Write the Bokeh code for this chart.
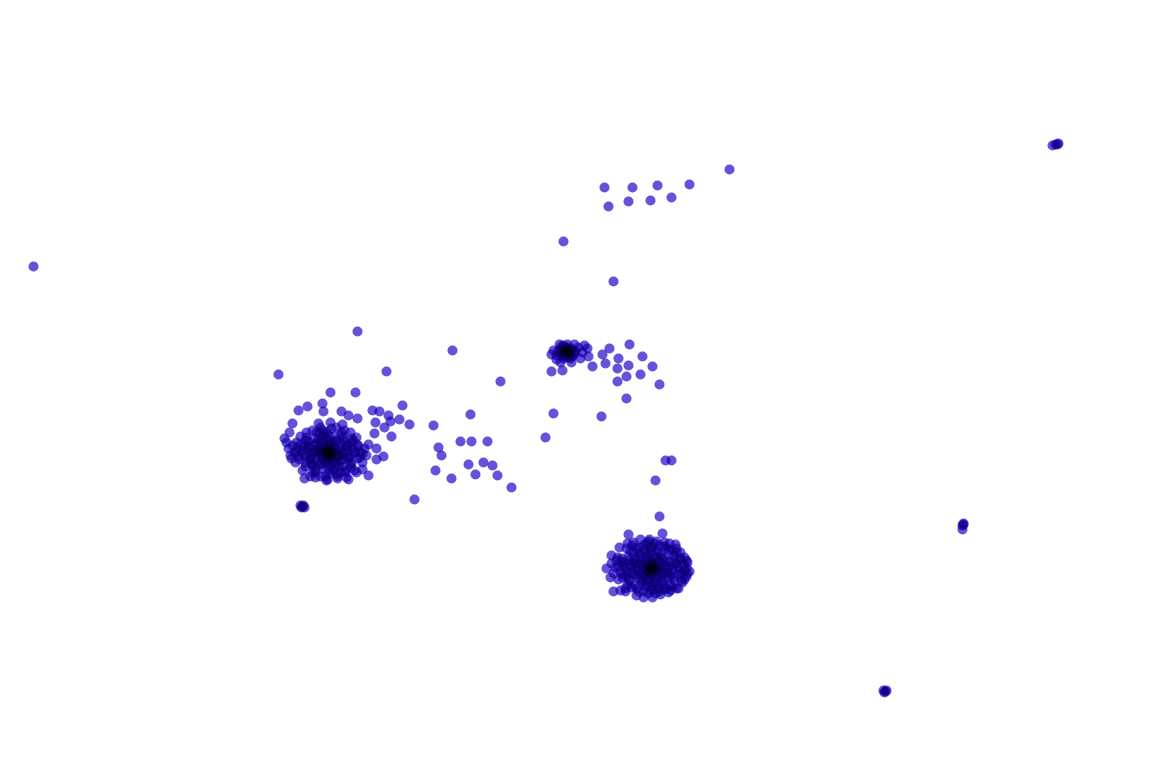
from bokeh.plotting import figure
from bokeh.models import ColumnDataSource, Range1d
from bokeh.embed import file_html
from bokeh.resources import INLINE

# Embedding coordinates (x grows right, y grows downward as in the original view)
sparse_x = [33, 357, 452, 386, 278, 500, 563, 613, 729,
            604, 632, 657, 689, 608, 628, 650, 671,
            553, 601, 545, 655, 665, 671]
sparse_y = [266, 331, 350, 371, 374, 381, 241, 281, 169,
            187, 187, 185, 184, 206, 201, 200, 197,
            413, 416, 437, 480, 460, 460]

middle_x = [470, 433, 409, 438, 441, 460, 471, 487, 483, 492, 468, 435, 451, 475, 497, 511, 414]
middle_y = [414, 425, 424, 447, 455, 441, 441, 441, 462, 465, 464, 470, 478, 474, 475, 487, 499]

left_x = [328, 327, 329, 326, 330, 328, 328, 325, 331, 327, 330, 324, 332, 326,
          320, 336, 328, 328, 322, 334, 322, 334, 318, 338, 331, 325, 339, 317, 333, 323,
          312, 344, 316, 340, 316, 340, 322, 334, 322, 334, 309, 347, 310, 346, 328, 328, 314, 342, 343, 313,
          302, 354, 305, 351, 305, 351, 312, 344, 312, 345, 298, 358, 320, 336, 320, 337, 300, 357, 296, 360,
          292, 364, 295, 362, 302, 354, 306, 350, 330, 318, 342, 290, 366, 300, 356, 310, 346, 326, 286, 368,
          329, 327, 330, 326, 331, 325, 333, 323, 329, 327, 335, 321, 332, 324, 337, 319, 330, 326, 340, 316,
          336, 320, 343, 313, 338, 318, 346, 310, 332, 324, 349, 307, 341, 315, 352, 305, 329, 327, 350, 308,
          345, 311, 353, 303, 336, 319,
          314, 342, 320, 336, 321, 335, 308, 348, 309, 347, 326, 330, 302, 354, 316, 340, 315, 341, 297, 359,
          305, 351, 306, 350, 325, 331, 299, 357, 318, 338, 312, 344, 294, 362, 322,
          330, 355, 298, 307, 322, 323, 341, 348, 357, 372, 379, 388, 402, 399, 390, 384, 375, 374, 391,
          292, 289, 284, 288, 291, 296, 376, 376, 383, 368, 304, 315, 327, 337, 348, 356, 362]
left_y = [452, 453, 451, 451, 453, 450, 455, 454, 452, 449, 456, 452, 450, 457,
          452, 452, 444, 460, 446, 446, 458, 458, 449, 455, 443, 461, 448, 456, 462, 442,
          452, 452, 443, 443, 461, 461, 436, 436, 468, 468, 447, 457, 458, 446, 435, 469, 438, 466, 438, 466,
          450, 452, 440, 442, 462, 463, 430, 430, 472, 472, 456, 446, 427, 427, 476, 476, 444, 458, 451, 452,
          445, 448, 462, 462, 470, 470, 432, 432, 422, 423, 424, 455, 455, 436, 437, 476, 477, 480, 442, 444,
          453, 451, 450, 454, 455, 449, 453, 455, 447, 458, 449, 450, 459, 445, 456, 454, 441, 463, 451, 451,
          440, 464, 459, 445, 466, 439, 449, 455, 470, 434, 456, 450, 435, 469, 448, 456, 473, 431, 464, 441,
          470, 464, 440, 446, 474, 432,
          452, 453, 441, 463, 463, 441, 446, 458, 459, 445, 438, 466, 453, 451, 432, 472, 472, 432, 447, 457,
          466, 438, 437, 467, 476, 428, 459, 444, 447, 457, 463, 441, 452, 453, 430,
          392, 392, 410, 406, 403, 411, 411, 415, 418, 410, 411, 415, 405, 419, 421, 427, 422, 433, 436,
          423, 432, 438, 448, 458, 442, 448, 459, 456, 475, 478, 477, 479, 478, 479, 472, 469]

mid_x = [566, 565, 567, 564, 568, 566, 563, 569, 566, 562, 570, 565, 560, 572, 567, 561, 573, 558, 575,
         563, 570, 556, 578, 559, 574, 582, 553, 580, 587, 588, 556, 584, 571, 560, 551,
         566, 567, 565, 568, 564, 570, 562, 571, 560, 574, 567, 563,
         551, 562, 592, 602, 609, 618, 629, 605, 617, 628, 642, 652, 626, 617, 640, 659, 626]
mid_y = [350, 351, 349, 349, 352, 353, 352, 350, 347, 350, 353, 355, 353, 349, 344, 346, 355, 350, 351,
         358, 358, 355, 347, 344, 344, 352, 350, 358, 348, 356, 359, 345, 362, 362, 354,
         351, 350, 348, 354, 353, 348, 355, 356, 349, 352, 357, 345,
         371, 370, 366, 354, 348, 358, 344, 363, 368, 365, 356, 366, 376, 381, 374, 384, 398]

bottom_x = [651, 650, 653, 648, 654, 650, 652, 647, 655, 649, 656, 646, 652, 651,
            643, 660, 651, 651, 645, 658, 645, 658, 641, 662, 654, 648, 663, 640,
            635, 667, 638, 664, 638, 664, 645, 657, 645, 657, 632, 670, 633, 670, 651, 651,
            625, 677, 628, 674, 628, 674, 636, 666, 636, 666, 621, 681, 622, 680, 643, 659, 643, 659,
            615, 686, 617, 684, 618, 684, 626, 676, 625, 678, 611, 689, 648, 656, 633, 669, 613, 687,
            652, 650, 653, 649, 655, 647, 651, 651, 657, 645, 659, 643, 654, 648, 661, 641, 656, 646,
            665, 637, 660, 642, 668, 634, 653, 649, 671, 631, 663, 639, 673, 629, 658, 644, 676, 626,
            668, 634, 679, 623, 650, 652, 672, 630, 681, 620, 664, 638, 683, 621, 655, 646, 676, 627,
            670, 632,
            630, 672, 640, 662, 641, 661, 634, 668, 627, 675, 647, 655, 636, 666, 624, 678, 650, 652,
            633, 669, 618, 684, 645, 657, 629, 673, 639, 663, 622, 680, 637, 665, 644, 658, 631, 671,
            616, 686, 648, 654,
            659, 628, 662, 606, 610, 613, 636, 643, 652, 660, 668, 676, 682, 611, 619, 627, 640, 649,
            664, 675, 680, 620, 625, 687, 686]
bottom_y = [568, 567, 569, 569, 566, 571, 564, 566, 570, 573, 567, 570, 572, 563,
            568, 568, 560, 576, 561, 561, 575, 575, 564, 572, 557, 579, 564, 573,
            567, 568, 557, 557, 578, 579, 552, 552, 584, 584, 562, 574, 574, 561, 550, 586,
            567, 567, 556, 556, 579, 580, 548, 548, 588, 588, 561, 573, 574, 560, 545, 545, 591, 591,
            567, 567, 557, 557, 579, 579, 548, 548, 588, 588, 563, 571, 541, 541, 542, 543, 573, 562,
            568, 569, 566, 566, 569, 571, 573, 562, 572, 564, 566, 571, 577, 559, 575, 561, 558, 580,
            566, 570, 555, 582, 572, 563, 583, 553, 565, 572, 584, 553, 577, 560, 588, 549, 563, 575,
            550, 585, 570, 565, 590, 546, 586, 551, 580, 571, 546, 591, 564, 558, 593, 543, 552, 584,
            590, 545,
            566, 569, 556, 558, 580, 581, 559, 577, 571, 563, 555, 582, 575, 561, 562, 574, 547, 589,
            552, 585, 566, 570, 586, 550, 580, 555, 547, 589, 577, 558, 565, 573, 575, 561, 587, 549,
            560, 576, 593, 543,
            516, 534, 533, 568, 577, 591, 595, 597, 597, 594, 592, 588, 582, 555, 547, 543, 539, 539,
            542, 544, 552, 590, 591, 573, 560]

small_x = [1052, 1055, 1057, 1058, 963, 962, 963, 962, 883, 885, 884, 886, 300, 302, 304, 303, 301]
small_y = [145, 144, 144, 143, 524, 525, 523, 529, 690, 691, 692, 690, 505, 506, 507, 505, 507]

xs = sparse_x + middle_x + left_x + mid_x + bottom_x + small_x
ys = sparse_y + middle_y + left_y + mid_y + bottom_y + small_y

source = ColumnDataSource(data=dict(x=xs, y=ys))

p = figure(width=1152, height=756, output_backend="svg", toolbar_location=None,
           x_range=Range1d(0, 1152), y_range=Range1d(756, 0), min_border=0)
p.xaxis.visible = False
p.yaxis.visible = False
p.grid.visible = False
p.outline_line_color = None
p.background_fill_color = "white"
p.border_fill_color = "white"

# colour layer then a darkening layer, approximating multiplicative overlap
p.scatter("x", "y", source=source, marker="circle", size=10,
          fill_color="#2000ff", fill_alpha=0.615, line_color=None)
p.scatter("x", "y", source=source, marker="circle", size=10,
          fill_color="black", fill_alpha=0.15, line_color=None)

open("out.html", "w").write(file_html(p, INLINE))
